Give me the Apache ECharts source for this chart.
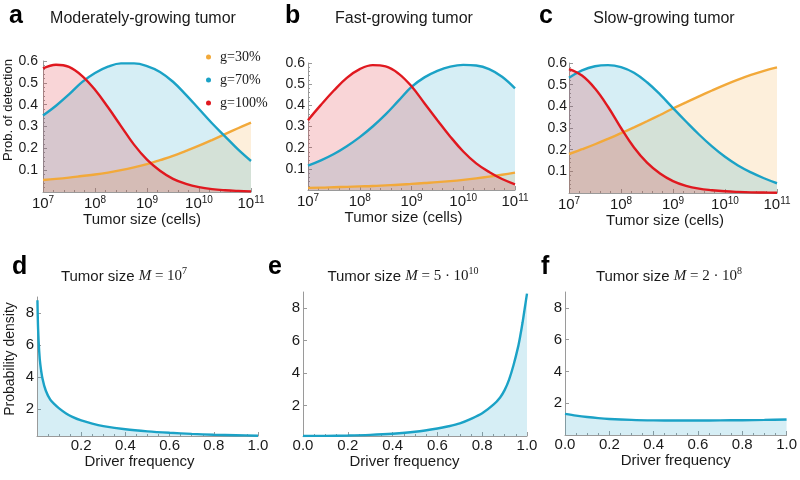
<!DOCTYPE html>
<html>
<head>
<meta charset="utf-8">
<script src="https://cdn.jsdelivr.net/npm/echarts@6/dist/echarts.min.js"></script>
<style>
  html, body { margin: 0; padding: 0; background: #fff; }
  #chart { width: 800px; height: 480px; }
</style>
</head>
<body>
<div id="chart"></div>
<script>
// tumor size, log10(cells)
const sizeExp = [7, 7.25, 7.5, 7.75, 8, 8.25, 8.5, 8.75, 9, 9.25, 9.5, 9.75, 10, 10.25, 10.5, 10.75, 11];

// a: moderately-growing tumor
const modG30  = [0.055, 0.060, 0.066, 0.073, 0.080, 0.089, 0.100, 0.113, 0.128, 0.146, 0.165, 0.188, 0.212, 0.238, 0.265, 0.292, 0.318];
const modG70  = [0.350, 0.395, 0.447, 0.503, 0.545, 0.574, 0.589, 0.589, 0.577, 0.550, 0.505, 0.445, 0.380, 0.315, 0.255, 0.195, 0.142];
const modG100 = [0.566, 0.583, 0.573, 0.532, 0.468, 0.388, 0.302, 0.217, 0.148, 0.097, 0.060, 0.037, 0.022, 0.013, 0.008, 0.005, 0.003];

// b: fast-growing tumor
const fastG30  = [0.010, 0.011, 0.013, 0.015, 0.017, 0.019, 0.022, 0.025, 0.029, 0.033, 0.037, 0.042, 0.048, 0.055, 0.063, 0.072, 0.082];
const fastG70  = [0.115, 0.140, 0.170, 0.207, 0.250, 0.300, 0.357, 0.422, 0.487, 0.532, 0.563, 0.583, 0.591, 0.588, 0.571, 0.535, 0.480];
const fastG100 = [0.330, 0.402, 0.470, 0.530, 0.571, 0.590, 0.584, 0.550, 0.490, 0.410, 0.330, 0.252, 0.182, 0.126, 0.085, 0.052, 0.027];

// c: slow-growing tumor
const slowG30  = [0.180, 0.202, 0.225, 0.250, 0.276, 0.303, 0.331, 0.360, 0.390, 0.418, 0.446, 0.473, 0.499, 0.523, 0.545, 0.564, 0.580];
const slowG70  = [0.532, 0.566, 0.585, 0.590, 0.581, 0.555, 0.511, 0.455, 0.392, 0.330, 0.270, 0.215, 0.167, 0.127, 0.095, 0.068, 0.045];
const slowG100 = [0.572, 0.542, 0.482, 0.398, 0.300, 0.210, 0.140, 0.090, 0.055, 0.033, 0.020, 0.013, 0.008, 0.005, 0.003, 0.002, 0.001];

// d-f: driver frequency densities
const freqD = [0.002, 0.005, 0.01, 0.015, 0.025, 0.04, 0.06, 0.08, 0.1, 0.13, 0.16, 0.2, 0.25, 0.3, 0.4, 0.5, 0.6, 0.7, 0.8, 0.9, 1.0];
const densD = [8.8, 7.0, 5.6, 4.8, 3.9, 3.15, 2.6, 2.3, 2.05, 1.75, 1.52, 1.3, 1.1, 0.95, 0.75, 0.62, 0.53, 0.46, 0.41, 0.38, 0.35];
const freqE = [0, 0.1, 0.2, 0.3, 0.4, 0.5, 0.6, 0.65, 0.7, 0.75, 0.8, 0.85, 0.88, 0.9, 0.92, 0.94, 0.96, 0.97, 0.98, 0.99, 1.0];
const densE = [0.12, 0.13, 0.15, 0.19, 0.26, 0.38, 0.58, 0.72, 0.9, 1.18, 1.52, 2.05, 2.5, 2.95, 3.6, 4.5, 5.6, 6.3, 7.1, 8.0, 8.9];
const freqF = [0, 0.05, 0.1, 0.15, 0.2, 0.3, 0.4, 0.5, 0.6, 0.7, 0.8, 0.9, 1.0];
const densF = [1.33, 1.22, 1.13, 1.06, 1.01, 0.95, 0.92, 0.91, 0.91, 0.92, 0.93, 0.95, 0.98];

const gNames = ['g=30%', 'g=70%', 'g=100%'];
const densTicks = [2, 4, 6, 8];

const orange = '#f2a93a';
const teal = '#1ba2c6';
const red = '#e0181f';
const sans = '"Liberation Sans", Arial, sans-serif';
const serif = '"Liberation Serif", "Times New Roman", serif';
const ink = '#1a1a1a';
const axisGrey = '#9a9a9a';

const chart = echarts.init(document.getElementById('chart'));

const grids = [
  { left: 43, top: 61, width: 208, height: 131 },
  { left: 308, top: 63, width: 207, height: 127 },
  { left: 569, top: 63, width: 208, height: 130 },
  { left: 37, top: 297, width: 221, height: 139 },
  { left: 303, top: 292, width: 224, height: 144 },
  { left: 565, top: 292, width: 223, height: 143 }
];

const axisLine = { lineStyle: { color: axisGrey, width: 1 } };
const tick = { inside: true, length: 4, lineStyle: { color: axisGrey } };
const minor = { show: true, splitNumber: 5, length: 2, lineStyle: { color: axisGrey } };

// top row: log-size axes
const sizeAxis = (i, pad) => ({
  type: 'value', gridIndex: i, min: 7, max: 11, interval: 1,
  axisLine, axisTick: tick, minorTick: minor, splitLine: { show: false },
  axisLabel: {
    margin: 3, color: ink, fontFamily: sans,
    formatter: v => '{b|10}{s|' + v + '}',
    rich: {
      b: { fontSize: 15, fontFamily: sans, color: ink, lineHeight: 16, verticalAlign: 'bottom' },
      s: { fontSize: 10, fontFamily: sans, color: ink, lineHeight: 10, verticalAlign: 'top' }
    }
  },
  name: 'Tumor size (cells)', nameLocation: 'middle', nameGap: 19,
  nameTextStyle: { fontSize: 15, fontFamily: sans, color: ink, padding: [0, pad, 0, 0] }
});

const probAxis = (i, margin) => ({
  type: 'value', gridIndex: i, min: 0, max: 0.6, interval: 0.1,
  axisLine: { show: true, lineStyle: axisLine.lineStyle }, axisTick: { show: true, ...tick }, minorTick: minor,
  splitLine: { show: false },
  axisLabel: { showMinLabel: false, margin, fontSize: 14, fontFamily: sans, color: ink }
});

const freqAxis = (i, showZero, pad) => ({
  type: 'value', gridIndex: i, min: 0, max: 1, interval: 0.2,
  axisLine, axisTick: tick, minorTick: { ...minor, splitNumber: 4 }, splitLine: { show: false },
  axisLabel: { showMinLabel: showZero, margin: 2, fontSize: 15, fontFamily: sans, color: ink, formatter: v => v.toFixed(1) },
  name: 'Driver frequency', nameLocation: 'middle', nameGap: 13,
  nameTextStyle: { fontSize: 15, fontFamily: sans, color: ink, padding: [0, pad, 0, 0] }
});

const densAxis = (i, min) => ({
  type: 'value', gridIndex: i, min, max: 9,
  axisLine: { show: true, lineStyle: axisLine.lineStyle },
  axisTick: { show: true, ...tick, customValues: densTicks },
  splitLine: { show: false },
  axisLabel: { margin: 3, fontSize: 15, fontFamily: sans, color: ink, customValues: densTicks }
});

const xAxes = [
  sizeAxis(0, 10), sizeAxis(1, 16), sizeAxis(2, 16),
  freqAxis(3, false, 16), freqAxis(4, true, 21), freqAxis(5, true, 0)
];
const yAxes = [
  { ...probAxis(0, 5), name: 'Prob. of detection', nameLocation: 'middle', nameGap: 27,
    nameTextStyle: { fontSize: 13, fontFamily: sans, color: ink, padding: [0, 0, 0, 33] } },
  probAxis(1, 3), probAxis(2, 2),
  { ...densAxis(3, 0.33), name: 'Probability density', nameLocation: 'middle', nameGap: 20,
    nameTextStyle: { fontSize: 14, fontFamily: sans, color: ink, padding: [0, 0, 0, 15] } },
  densAxis(4, 0.12), densAxis(5, 0)
];

function curve(name, xs, ys, color, idx, smooth) {
  return {
    name, type: 'line', xAxisIndex: idx, yAxisIndex: idx,
    data: xs.map((x, k) => [x, ys[k]]),
    smooth, showSymbol: false, symbol: 'circle',
    lineStyle: { color, width: 2.4 },
    itemStyle: { color },
    areaStyle: { color, opacity: 0.18 },
    emphasis: { disabled: true }
  };
}

const topSets = [
  [modG30, modG70, modG100],
  [fastG30, fastG70, fastG100],
  [slowG30, slowG70, slowG100]
];
const colors = [orange, teal, red];
const series = [];
topSets.forEach((set, p) => {
  set.forEach((ys, k) => series.push(curve(gNames[k], sizeExp, ys, colors[k], p, 0.4)));
});
series.push(curve('densD', freqD, densD, teal, 3, 0.3));
series.push(curve('densE', freqE, densE, teal, 4, 0.3));
series.push(curve('densF', freqF, densF, teal, 5, 0.3));

// panel letters and titles
const label = (txt, x, y) => ({
  type: 'text', x, y,
  style: { text: txt, font: 'bold 25px ' + sans, fill: '#000', align: 'left', verticalAlign: 'middle', textAlign: 'left', textVerticalAlign: 'middle' }
});
const heading = (txt, x, y, size) => ({
  type: 'text', x, y,
  style: {
    text: txt, font: size + 'px ' + sans, fill: ink,
    align: 'center', verticalAlign: 'middle', textAlign: 'center', textVerticalAlign: 'middle',
    rich: {
      t: { fontSize: 15, fontFamily: sans, color: ink, lineHeight: 18, verticalAlign: 'bottom' },
      i: { fontSize: 15, fontFamily: serif, fontStyle: 'italic', color: ink, lineHeight: 18, verticalAlign: 'bottom' },
      m: { fontSize: 15, fontFamily: serif, color: ink, lineHeight: 18, verticalAlign: 'bottom' },
      s: { fontSize: 10, fontFamily: serif, color: ink, lineHeight: 10, verticalAlign: 'top' }
    }
  }
});

const graphic = [
  label('a', 9, 16), label('b', 285, 16), label('c', 539, 16),
  label('d', 12, 267), label('e', 268, 267), label('f', 541, 267),
  heading('Moderately-growing tumor', 143, 19, 16),
  heading('Fast-growing tumor', 404, 19, 16),
  heading('Slow-growing tumor', 664, 19, 16),
  heading('{t|Tumor size }{i|M}{m| = 10}{s|7}', 124, 275, 15),
  heading('{t|Tumor size }{i|M}{m| = 5 \u00b7 10}{s|10}', 403, 275, 15),
  heading('{t|Tumor size }{i|M}{m| = 2 \u00b7 10}{s|8}', 669, 275, 15)
];

chart.setOption({
  animation: false,
  backgroundColor: '#fff',
  grid: grids,
  xAxis: xAxes,
  yAxis: yAxes,
  legend: {
    data: gNames, orient: 'vertical', left: 201, top: 45,
    icon: 'circle', itemWidth: 5, itemHeight: 5, itemGap: 9,
    selectedMode: false,
    textStyle: { fontFamily: serif, fontSize: 14, color: ink, padding: [0, 0, 0, 4] }
  },
  graphic,
  series
});
</script>
</body>
</html>
